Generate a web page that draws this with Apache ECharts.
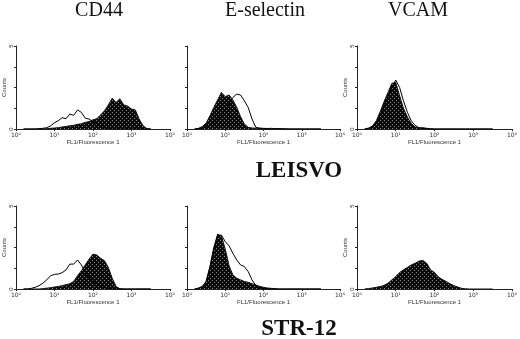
<!DOCTYPE html>
<html>
<head>
<meta charset="utf-8">
<script src="https://cdn.jsdelivr.net/npm/echarts@6/dist/echarts.min.js"></script>
<style>
html, body { margin: 0; padding: 0; background: #fff; }
#main { width: 520px; height: 339px; }
</style>
</head>
<body>
<div id="main"></div>
<script>
// fluorescence channels (FL1), 10 per decade from 10^0.2 to 10^3.5
var fl = [1.58, 2.0, 2.51, 3.16, 3.98, 5.01, 6.31, 7.94, 10, 12.6, 15.8, 20.0, 25.1, 31.6, 39.8, 50.1, 63.1, 79.4,
          100, 126, 158, 200, 251, 316, 398, 501, 631, 794, 1000, 1259, 1585, 1995, 2512, 3162];

var columns = ['CD44', 'E-selectin', 'VCAM'];
var rows = ['LEISVO', 'STR-12'];
var xTicks = ['10⁰', '10¹', '10²', '10³', '10⁴'];

// counts (open = control outline, filled = antibody)
var cd44LeisvoOpen = [0,0,0,0,0.02,0.04,0.08,0.18,0.38,0.5,0.68,0.62,0.9,0.82,1.15,1.0,0.65,0.6,0.45,0.3,0.15,0.06,0.02,0,0,0,0,0,0,0,0,0,0,0];
var cd44LeisvoFill = [0,0,0,0,0,0,0.02,0.04,0.06,0.08,0.12,0.15,0.2,0.22,0.28,0.32,0.4,0.45,0.55,0.62,0.85,1.1,1.45,1.85,1.6,1.82,1.45,1.38,1.2,1.15,0.6,0.2,0.03,0];
var eselLeisvoOpen = [0,0.02,0.05,0.12,0.22,0.4,0.6,0.85,1.1,1.55,1.9,2.1,2.05,1.7,1.3,0.6,0.1,0.05,0.04,0.03,0.04,0.02,0.03,0.02,0.01,0,0,0,0,0,0,0,0,0];
var eselLeisvoFill = [0,0.04,0.15,0.35,0.8,1.3,1.75,2.2,1.95,2.05,1.75,1.3,0.75,0.3,0.1,0.06,0.05,0.04,0.03,0.02,0,0,0,0,0,0,0,0,0,0,0,0,0,0];
var vcamLeisvoOpen = [0,0.04,0.12,0.4,0.85,1.4,1.95,2.5,2.95,2.5,1.7,1.0,0.5,0.22,0.08,0.03,0.01,0,0,0,0,0,0,0,0,0,0,0,0,0,0,0,0,0];
var vcamLeisvoFill = [0,0.06,0.18,0.5,1.05,1.65,2.2,2.75,2.8,2.0,1.25,0.72,0.35,0.12,0.06,0.08,0.04,0.02,0,0,0,0,0,0,0,0,0,0,0,0,0,0,0,0];
var cd44StrOpen = [0,0,0.04,0.1,0.2,0.35,0.55,0.8,0.88,0.9,0.98,1.15,1.5,1.5,1.75,1.45,1.0,0.7,0.45,0.3,0.15,0.08,0.03,0,0,0,0,0,0,0,0,0,0,0];
var cd44StrFill = [0,0,0,0,0,0.02,0.05,0.08,0.12,0.15,0.2,0.26,0.32,0.45,0.8,1.1,1.45,1.8,2.1,2.05,1.85,1.7,1.3,0.65,0.15,0.02,0,0,0,0,0,0,0,0];
var eselStrOpen = [0,0.05,0.15,0.45,1.3,2.4,3.2,3.25,2.85,2.6,2.15,1.75,1.45,1.35,1.05,0.55,0.2,0.06,0.03,0.02,0,0,0,0,0,0,0,0,0,0,0,0,0,0];
var eselStrFill = [0,0.05,0.15,0.45,1.35,2.5,3.3,3.2,2.4,1.4,0.85,0.65,0.55,0.45,0.4,0.32,0.24,0.16,0.1,0.06,0.04,0.02,0,0,0,0,0,0,0,0,0,0,0,0];
var vcamStrFill = [0,0.03,0.06,0.1,0.15,0.22,0.35,0.55,0.75,1.0,1.15,1.3,1.45,1.55,1.68,1.72,1.55,1.15,1.0,0.72,0.58,0.45,0.32,0.2,0.12,0.04,0.01,0,0,0,0,0,0,0];

var panels = [
    { left: 15,  top: 46,  width: 155, open: cd44LeisvoOpen, fill: cd44LeisvoFill, yLabels: true },
    { left: 187, top: 46,  width: 153, open: eselLeisvoOpen, fill: eselLeisvoFill, yLabels: false },
    { left: 357, top: 46,  width: 156, open: vcamLeisvoOpen, fill: vcamLeisvoFill, yLabels: true },
    { left: 15,  top: 206, width: 155, open: cd44StrOpen,    fill: cd44StrFill,    yLabels: true },
    { left: 187, top: 206, width: 153, open: eselStrOpen,    fill: eselStrFill,    yLabels: false },
    { left: 357, top: 206, width: 156, open: null,           fill: vcamStrFill,    yLabels: true }
];

// stippled black fill
var tile = document.createElement('canvas');
tile.width = 4; tile.height = 4;
var tc = tile.getContext('2d');
tc.fillStyle = '#0a0a0a';
tc.fillRect(0, 0, 4, 4);
tc.fillStyle = '#8a8a8a';
tc.fillRect(0, 0, 1, 1);
tc.fillRect(2, 2, 1, 1);

var pairs = function (counts) {
    return counts.map(function (c, i) { return [fl[i], c]; });
};

var grids = [], xAxes = [], yAxes = [], series = [];
panels.forEach(function (p, k) {
    grids.push({ left: p.left, top: p.top, width: p.width, height: 83 });
    xAxes.push({
        type: 'log', logBase: 10, min: 1, max: 10000, gridIndex: k,
        axisLine: { lineStyle: { color: '#222', width: 1 } },
        axisTick: { length: 2, lineStyle: { color: '#222' } },
        splitLine: { show: false },
        axisLabel: {
            fontSize: 6, color: '#333', margin: 3, fontFamily: 'DejaVu Sans',
            formatter: function (v) { return xTicks[Math.round(Math.log10(v))]; }
        },
        name: 'FL1/Fluorescence 1', nameLocation: 'middle', nameGap: 10,
        nameTextStyle: { fontSize: 6, color: '#333', fontFamily: 'Liberation Sans' }
    });
    yAxes.push({
        type: 'value', min: 0, max: 5, interval: 1.25, gridIndex: k,
        axisLine: { show: true, lineStyle: { color: '#222', width: 1 } },
        axisTick: { show: true, length: 2, lineStyle: { color: '#222' } },
        splitLine: { show: false },
        axisLabel: {
            show: p.yLabels, fontSize: 6, color: '#333', margin: 2, rotate: 90,
            formatter: function (v) { return (v === 0 || v === 5) ? String(v) : ''; }
        },
        name: p.yLabels ? 'Counts' : '', nameLocation: 'middle', nameGap: 8,
        nameTextStyle: { fontSize: 6, color: '#333', fontFamily: 'Liberation Sans' }
    });
    series.push({
        type: 'line', xAxisIndex: k, yAxisIndex: k, data: pairs(p.fill),
        showSymbol: false, silent: true, z: 2,
        lineStyle: { color: '#111', width: 1 },
        areaStyle: { color: { image: tile, repeat: 'repeat' }, opacity: 1 }
    });
    if (p.open) {
        series.push({
            type: 'line', xAxisIndex: k, yAxisIndex: k, data: pairs(p.open),
            showSymbol: false, silent: true, z: 3,
            lineStyle: { color: '#000', width: 1 }
        });
    }
});

var headStyle = { fontFamily: 'Liberation Serif', fontSize: 20, fill: '#111', textAlign: 'center', textVerticalAlign: 'middle' };
var rowStyle = { fontFamily: 'Liberation Serif', fontSize: 23, fontWeight: 'bold', fill: '#111', textAlign: 'center', textVerticalAlign: 'middle' };
var colX = [99, 265, 418];
var rowY = [171, 329];
var graphics = [];
columns.forEach(function (c, i) {
    graphics.push({ type: 'text', x: colX[i], y: 11, style: Object.assign({ text: c }, headStyle) });
});
rows.forEach(function (r, i) {
    graphics.push({ type: 'text', x: 299, y: rowY[i], style: Object.assign({ text: r }, rowStyle) });
});

var chart = echarts.init(document.getElementById('main'));
chart.setOption({
    animation: false,
    backgroundColor: '#fff',
    grid: grids,
    xAxis: xAxes,
    yAxis: yAxes,
    series: series,
    graphic: graphics
});
</script>
</body>
</html>
